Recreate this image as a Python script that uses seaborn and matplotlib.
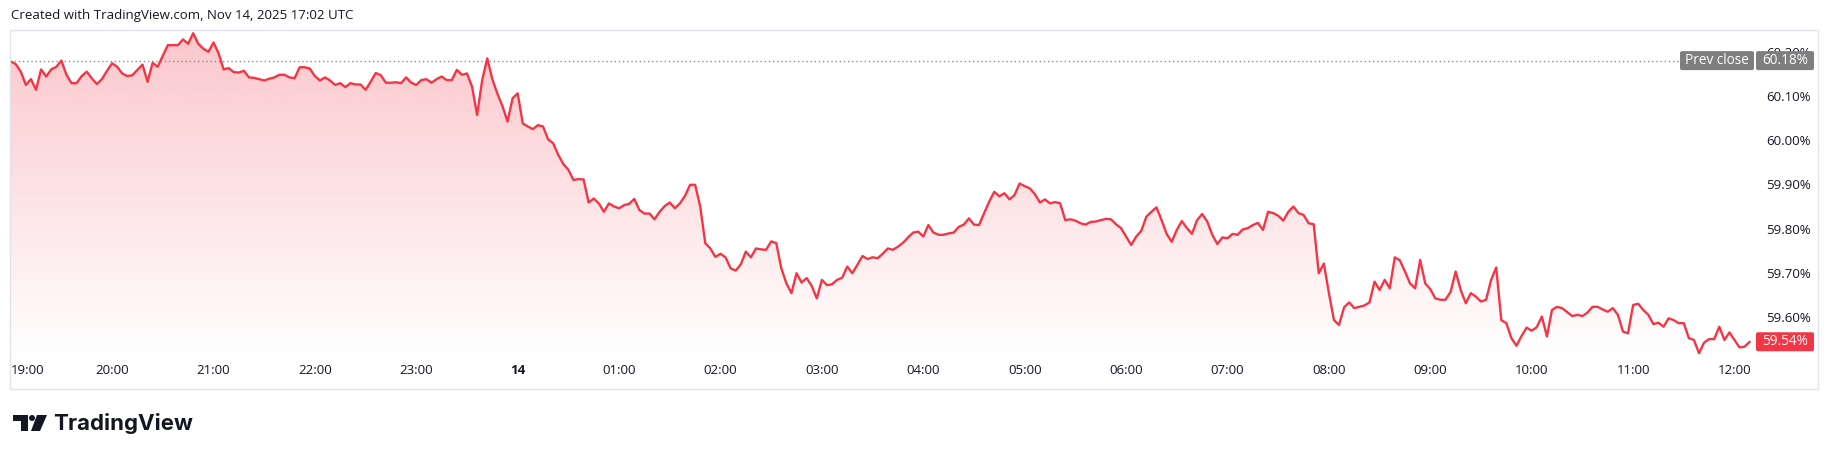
import numpy as np
import pandas as pd
import matplotlib
matplotlib.use("Agg")
import matplotlib.pyplot as plt
import seaborn as sns
from matplotlib.colors import to_rgb
from matplotlib.patches import FancyBboxPatch, Rectangle, Polygon, Circle
from matplotlib.transforms import IdentityTransform

# ----------------------------
# Data (one value every 3 minutes, starting 19:00)
# ----------------------------
step_min = 3

vals_evening = [
    60.178, 60.172, 60.155, 60.125, 60.138, 60.114, 60.160, 60.144, 60.160, 60.166,
    60.180, 60.148, 60.129, 60.129, 60.145, 60.155, 60.140, 60.127, 60.138, 60.157,
    60.174, 60.166, 60.151, 60.145, 60.147, 60.159, 60.171, 60.132, 60.175, 60.166,
    60.191, 60.215, 60.215, 60.215, 60.228, 60.218, 60.242, 60.218, 60.207, 60.200,
    60.221, 60.197, 60.160, 60.163, 60.154, 60.153, 60.157, 60.142, 60.141, 60.138,
    60.135, 60.139, 60.142, 60.148, 60.148, 60.142, 60.140, 60.165, 60.165, 60.162,
    60.145, 60.135, 60.142, 60.135, 60.125, 60.129, 60.120, 60.129, 60.126, 60.126,
    60.114, 60.132, 60.152, 60.147, 60.130, 60.130, 60.131, 60.129, 60.142, 60.130,
    60.125, 60.136, 60.138, 60.130, 60.138, 60.144, 60.136, 60.136, 60.159, 60.148,
    60.151, 60.121, 60.057, 60.136, 60.185, 60.138, 60.105, 60.077, 60.042, 60.095,
    60.106, 60.038, 60.031, 60.025, 60.034, 60.031, 60.002, 59.993, 59.967, 59.946,
    59.933, 59.910, 59.912, 59.911, 59.859, 59.868, 59.857,
]

vals_night = [
    59.838, 59.857, 59.850, 59.846, 59.853, 59.856, 59.867, 59.842, 59.834, 59.834,
    59.821, 59.838, 59.851, 59.859, 59.846, 59.857, 59.874, 59.899, 59.899, 59.850,
    59.767, 59.755, 59.736, 59.743, 59.735, 59.710, 59.705, 59.719, 59.748, 59.735,
    59.755, 59.753, 59.752, 59.771, 59.767, 59.710, 59.676, 59.654, 59.699, 59.678,
    59.688, 59.670, 59.642, 59.684, 59.672, 59.674, 59.684, 59.689, 59.714, 59.699,
    59.718, 59.738, 59.731, 59.735, 59.733, 59.743, 59.755, 59.752, 59.759, 59.768,
    59.780, 59.791, 59.793, 59.782, 59.808, 59.791, 59.786, 59.786, 59.789, 59.791,
    59.804, 59.809, 59.823, 59.809, 59.808, 59.835, 59.861, 59.883, 59.873, 59.880,
    59.866, 59.876, 59.902, 59.896, 59.891, 59.878, 59.859, 59.866, 59.857, 59.860,
    59.857, 59.819, 59.821, 59.818, 59.812, 59.809, 59.815, 59.816, 59.819, 59.822,
    59.821, 59.810, 59.801, 59.782, 59.763, 59.782, 59.795, 59.827, 59.838, 59.848,
    59.819, 59.788, 59.770, 59.797, 59.817, 59.801, 59.788, 59.819,
]

vals_morning = [
    59.833, 59.816, 59.786, 59.765, 59.780, 59.778, 59.788, 59.786, 59.798, 59.801,
    59.808, 59.813, 59.797, 59.838, 59.835, 59.829, 59.818, 59.838, 59.850, 59.835,
    59.831, 59.812, 59.810, 59.699, 59.721, 59.654, 59.593, 59.582, 59.622, 59.633,
    59.620, 59.623, 59.626, 59.633, 59.680, 59.661, 59.684, 59.665, 59.735, 59.728,
    59.703, 59.676, 59.665, 59.729, 59.676, 59.663, 59.642, 59.639, 59.639, 59.657,
    59.703, 59.661, 59.631, 59.654, 59.646, 59.635, 59.639, 59.684, 59.712, 59.593,
    59.586, 59.552, 59.535, 59.557, 59.576, 59.569, 59.577, 59.601, 59.556, 59.616,
    59.623, 59.620, 59.611, 59.602, 59.605, 59.602, 59.610, 59.623, 59.623, 59.617,
    59.612, 59.620, 59.605, 59.567, 59.563, 59.627, 59.630, 59.616, 59.605, 59.584,
    59.587, 59.578, 59.597, 59.593, 59.586, 59.586, 59.552, 59.548, 59.518, 59.542,
    59.550, 59.550, 59.578, 59.548, 59.565, 59.548, 59.531, 59.533, 59.544,
]

hour_labels = ["19:00", "20:00", "21:00", "22:00", "23:00", "14", "01:00", "02:00",
               "03:00", "04:00", "05:00", "06:00", "07:00", "08:00", "09:00",
               "10:00", "11:00", "12:00"]
price_ticks = [60.20, 60.10, 60.00, 59.90, 59.80, 59.70, 59.60]
prev_close = 60.18

values = vals_evening + vals_night + vals_morning
df = pd.DataFrame({"minute": np.arange(len(values)) * step_min, "value": values})

RED = "#F23645"
GREY_BOX = "#7E7E7E"
TEXT = "#131722"

# ----------------------------
# Figure
# ----------------------------
W, H = 1831, 458
sns.set_theme(style="white")
plt.rcParams["font.family"] = ["Open Sans", "DejaVu Sans"]

fig = plt.figure(figsize=(W / 100, H / 100), dpi=100)
fig.patch.set_facecolor("white")
ax = fig.add_axes([10 / W, 1 - 357 / H, 1747 / W, 326 / H])
ax.set_facecolor("white")

sns.lineplot(data=df, x="minute", y="value", ax=ax, color=RED,
             linewidth=1.7, estimator=None, zorder=3)

xmin, xmax = -0.4, 1033.3
ymin, ymax = 59.5095, 60.247

# gradient area under the line
poly = ax.fill_between(df["minute"], df["value"], ymin, color="none", lw=0)
grad = np.zeros((256, 1, 4))
grad[..., :3] = to_rgb(RED)
grad[..., 3] = np.linspace(0.28, 0.0, 256)[:, None]
im = ax.imshow(grad, extent=[xmin, xmax, ymin, df["value"].max()],
               aspect="auto", origin="upper", zorder=1)
im.set_clip_path(poly.get_paths()[0], transform=ax.transData)

ax.axhline(prev_close, color="#8A8D96", lw=1, ls=(0, (1, 2)), zorder=2)

ax.set_xlim(xmin, xmax)
ax.set_ylim(ymin, ymax)

# time axis
ax.set_xticks([60 * i for i in range(len(hour_labels))])
ax.set_xticklabels(hour_labels)
for i, lab in enumerate(ax.get_xticklabels()):
    if i == 0:
        lab.set_ha("left")
    if hour_labels[i] == "14":
        lab.set_fontweight("bold")
ax.tick_params(axis="x", length=0, pad=5, labelsize=9.5, labelcolor=TEXT)

# price axis
ax.yaxis.tick_right()
ax.set_yticks(price_ticks)
ax.set_yticklabels([f"{v:.2f}%" for v in price_ticks])
ax.tick_params(axis="y", length=0, pad=6.5, labelsize=9.5, labelcolor=TEXT)
for lab in ax.get_yticklabels():
    lab.set_ha("left")

ax.set_xlabel("")
ax.set_ylabel("")
for s in ax.spines.values():
    s.set_visible(False)
ax.grid(False)

# outer frame
fig.add_artist(Rectangle((10 / W, 1 - 389 / H), 1808 / W, 359 / H,
                         transform=fig.transFigure, fill=False,
                         ec="#E0E3EB", lw=1))


def price_box(x0, x1, value, text, color):
    yc = ax.transData.transform((0, value))[1]
    box = FancyBboxPatch((x0, yc - 9.5), x1 - x0, 19,
                         boxstyle="round,pad=0,rounding_size=2",
                         fc=color, ec="none", transform=IdentityTransform())
    fig.add_artist(box)
    fig.text((x0 + x1) / 2 / W, yc / H, text, ha="center", va="center",
             color="white", fontsize=9.8)


price_box(1680, 1754, prev_close, "Prev close", GREY_BOX)
price_box(1756, 1814, prev_close, f"{prev_close:.2f}%", GREY_BOX)
price_box(1756, 1814, values[-1], f"{values[-1]:.2f}%", RED)

# header
fig.text(11 / W, 1 - 16 / H, "Created with TradingView.com, Nov 14, 2025 17:02 UTC",
         ha="left", va="center", fontsize=9.5, color=TEXT)

# footer logo
def px(x, y):
    return (x, H - y)

logo = [
    Polygon([px(13, 415), px(28, 415), px(28, 431), px(21, 431), px(21, 421), px(13, 421)],
            closed=True),
    Circle(px(32, 418), 3),
    Polygon([px(37, 415), px(47, 415), px(40, 431), px(31, 431)], closed=True),
]
for p in logo:
    p.set_facecolor(TEXT)
    p.set_edgecolor("none")
    p.set_transform(IdentityTransform())
    fig.add_artist(p)

fig.text(53 / W, 1 - 430 / H, "TradingView", ha="left", va="baseline",
         fontsize=16, fontweight="bold", family=["Inter", "DejaVu Sans"], color=TEXT)

fig.savefig("out.png", dpi=100, facecolor="white")
